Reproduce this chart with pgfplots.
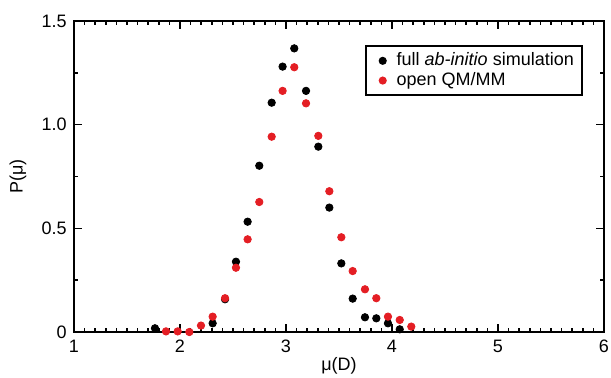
\documentclass[border=0pt]{standalone}
\usepackage{fontspec}
\setmainfont{Liberation Sans}
\usepackage{pgfplots}
\pgfplotsset{compat=1.18}
\definecolor{myred}{RGB}{228,30,36}
\begin{document}
\fontsize{9}{11}\selectfont
\begin{tikzpicture}
\begin{axis}[
  name=ax,
  scale only axis,
  width=265pt, height=155.5pt,
  xmin=1, xmax=6, ymin=0, ymax=1.5,
  xtick={1,2,3,4,5,6},
  ytick={0,0.5,1.0,1.5},
  yticklabels={0,0.5,1.0,1.5},
  minor x tick num=9,
  minor y tick num=1,
  tick align=inside,
  major tick length=4pt,
  minor tick length=2pt,
  axis line style={line width=1pt},
  every tick/.style={black, line width=0.8pt},
  /pgf/number format/assume math mode=true,
  tick label style={font=\fontsize{9}{11}\selectfont},
  xticklabel style={yshift=-1pt},
  yticklabel style={xshift=-0.5pt},
  xlabel={μ(D)},
  ylabel={P(μ)},
  label style={font=\fontsize{9}{11}\selectfont},
  xlabel style={at={(axis description cs:0.5,-0.1093)}, anchor=center},
  ylabel style={at={(axis description cs:-0.1057,0.5)}, anchor=center},
  clip=false,
  legend image code/.code={\path (0pt,0pt) (10.2pt,0pt); \draw[#1, mark size=1.5pt] plot coordinates {(4.7pt,0pt)};},
  legend style={at={(0.96,0.923)}, anchor=north east, draw=black, line width=1pt,
    font=\fontsize{9}{11}\selectfont, inner xsep=3pt, inner ysep=2.5pt,
    nodes={inner sep=1pt}, row sep=0pt,
    legend cell align=left},
]
\addplot[only marks, mark=*, mark size=1.85pt, black] coordinates {
(1.764,0.018) (2.308,0.042) (2.425,0.158) (2.528,0.339) (2.638,0.532)
(2.748,0.802) (2.865,1.106) (2.968,1.280) (3.078,1.368) (3.189,1.163)
(3.305,0.894) (3.409,0.600) (3.522,0.331) (3.629,0.161) (3.745,0.071)
(3.852,0.066) (3.962,0.042) (4.073,0.013)
};
\addlegendentry{full \textit{ab-initio} simulation}
\addplot[only marks, mark=*, mark size=1.85pt, myred] coordinates {
(1.868,0.003) (1.978,0.003) (2.088,0.0) (2.198,0.031) (2.308,0.074)
(2.425,0.163) (2.528,0.310) (2.638,0.447) (2.748,0.627) (2.865,0.942)
(2.968,1.163) (3.078,1.277) (3.189,1.103) (3.305,0.946) (3.409,0.679)
(3.522,0.457) (3.629,0.294) (3.745,0.206) (3.852,0.163) (3.962,0.074)
(4.073,0.058) (4.182,0.026)
};
\addlegendentry{open QM/MM}
\end{axis}
\pgfresetboundingbox
\path[use as bounding box] ([shift={(-37pt,-22.5pt)}]ax.south west) rectangle ([shift={(3.5pt,10.5pt)}]ax.north east);
\end{tikzpicture}
\end{document}
